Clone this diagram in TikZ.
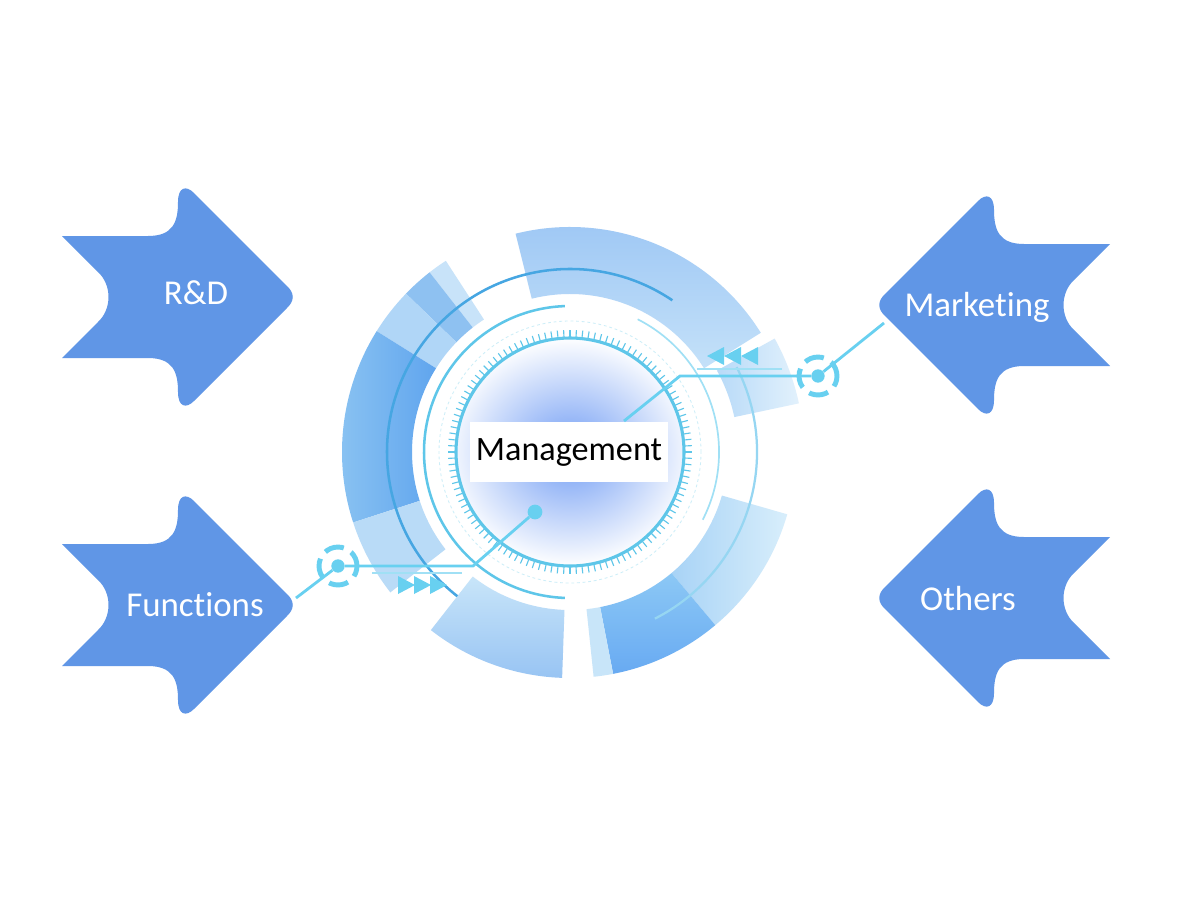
\documentclass[tikz,border=0pt]{standalone}
\usepackage{fontspec}
\setmainfont{Carlito}[Ligatures=NoCommon]
\definecolor{arrowBlue}{RGB}{96,150,230}
\definecolor{lineCyan}{RGB}{104,208,240}
\definecolor{thinCyan}{RGB}{160,224,245}
\definecolor{tickCyan}{RGB}{94,198,233}
\definecolor{darkArc}{RGB}{70,166,226}
\definecolor{lightArc}{RGB}{150,214,242}
\definecolor{faintCyan}{RGB}{205,238,248}
\definecolor{glowBlue}{RGB}{112,156,244}
\definecolor{segPale}{RGB}{200,227,249}
\definecolor{segMid}{RGB}{142,193,241}
\definecolor{segSoft}{RGB}{176,214,247}
\definecolor{segDeep}{RGB}{96,165,238}
\definecolor{segOuter}{RGB}{140,196,242}
\definecolor{segLight}{RGB}{185,219,247}
\definecolor{segTopA}{RGB}{196,225,249}
\definecolor{segTopB}{RGB}{156,198,244}
\definecolor{segRightA}{RGB}{184,218,248}
\definecolor{segRightB}{RGB}{226,241,252}
\definecolor{segLowA}{RGB}{168,211,246}
\definecolor{segLowB}{RGB}{216,238,251}
\definecolor{segDarkA}{RGB}{104,170,242}
\definecolor{segDarkB}{RGB}{140,200,245}
\definecolor{segBotA}{RGB}{152,196,243}
\definecolor{segBotB}{RGB}{200,229,249}
\begin{document}
\begin{tikzpicture}[x=0.025cm, y=-0.025cm]
	\tikzstyle{arrowStyle}=[fill=arrowBlue]
	\tikzstyle{labelStyle}=[text=white, inner sep=0pt, font=\fontsize{24.8}{29}\selectfont]
	\tikzstyle{bandStyle}=[fill=white, inner sep=0pt, minimum width=4.95cm, minimum height=1.52cm, font=\fontsize{24.3}{29}\selectfont]
	\tikzstyle{lineStyle}=[draw=lineCyan, line width=2pt]
	\tikzstyle{thinLineStyle}=[draw=thinCyan, line width=1pt]
	\tikzstyle{dotStyle}=[shape=circle, fill=lineCyan, inner sep=0pt, minimum size=9.5pt]
	\tikzstyle{ringDotStyle}=[shape=circle, draw=lineCyan, line width=3.5pt, inner sep=0pt, minimum size=27pt, dash pattern=on 14pt off 6pt, dash phase=3pt]
	\tikzstyle{ringStyle}=[draw=tickCyan, line width=2.2pt]
	\tikzstyle{tickStyle}=[draw=tickCyan, line width=0.8pt]
	\tikzstyle{faintStyle}=[draw=faintCyan, line width=0.6pt, dash pattern=on 2pt off 2pt]
	\tikzstyle{arcStyle}=[draw=tickCyan, line width=1.8pt]
	\tikzstyle{thinArcStyle}=[draw=thinCyan, line width=1.2pt]
	\tikzstyle{darkArcStyle}=[draw=darkArc, line width=1.8pt]
	\tikzstyle{lightArcStyle}=[draw=lightArc, line width=1.6pt]
	\tikzstyle{segTop}=[top color=segTopB, bottom color=segTopA]
	\tikzstyle{segRight}=[left color=segRightA, right color=segRightB]
	\tikzstyle{segLow}=[left color=segLowA, right color=segLowB]
	\tikzstyle{segDark}=[top color=segDarkB, bottom color=segDarkA]
	\tikzstyle{segSlice}=[fill=segBotB]
	\tikzstyle{segBot}=[top color=segBotB, bottom color=segBotA]
	\tikzstyle{segLeft}=[left color=segOuter, right color=segDeep]
	\tikzstyle{segLeftA}=[fill=segPale]
	\tikzstyle{segLeftB}=[fill=segMid]
	\tikzstyle{segLeftC}=[fill=segSoft]
	\tikzstyle{segLeftD}=[fill=segLight]
	\useasboundingbox (0,0) rectangle (1200,908);
	\fill[white] (0,0) rectangle (1200,908);
	\begin{scope}[shift={(570,452)}, yscale=-1]
		\foreach \ra/\rb/\aa/\ab/\st in {158/225/32/104/segTop, 168/234/12/29/segRight, 158/226/-50/-16/segLow, 158/226/-79/-50/segDark, 158/226/-84/-79/segSlice, 158/226/232/268/segBot, 158/228/123/128/segLeftA, 158/228/128/136/segLeftB, 158/228/136/148/segLeftC, 158/228/148/198/segLeft, 158/228/198/218/segLeftD}
			\path[\st] (\aa:\rb) arc[start angle=\aa, end angle=\ab, radius=\rb] -- (\ab:\ra) arc[start angle=\ab, end angle=\aa, radius=\ra] -- cycle;
		\begin{scope}
			\clip (0,0) circle (113);
			\shade[inner color=glowBlue, outer color=white] (0,0) ellipse (128 and 115);
		\end{scope}
		\draw[ringStyle] (0,0) circle (114);
		\foreach \a in {0,3,...,357}
			\draw[tickStyle] (\a:115) -- (\a:122);
		\draw[faintStyle] (0,0) circle (131);
		\draw[arcStyle] (92:146) arc[start angle=92, end angle=268, radius=146];
		\draw[thinArcStyle] (63:149) arc[start angle=63, end angle=-27, radius=149];
		\draw[darkArcStyle] (56:183) arc[start angle=56, end angle=232, radius=183];
		\draw[lightArcStyle] (27:187) arc[start angle=27, end angle=-63, radius=187];
	\end{scope}
	\node[bandStyle] (mg) at (569,452) {Management};
	\node[dotStyle] (d0) at (818,376) {};
	\node[ringDotStyle] (r0) at (818,376) {};
	\node[dotStyle] (d1) at (338,566) {};
	\node[ringDotStyle] (r1) at (338,566) {};
	\node[dotStyle, minimum size=10.5pt] (d2) at (535,512) {};
	\coordinate (mkEdge) at (884,323);
	\coordinate (fnEdge) at (296,598);
	\coordinate (bendR) at (680,376);
	\coordinate (bendL) at (473,566);
	\coordinate (bandTop) at (624,421);
	\draw[lineStyle] (mkEdge) -- (d0);
	\draw[lineStyle] (d0) -- (bendR) -- (bandTop);
	\draw[lineStyle] (fnEdge) -- (d1);
	\draw[lineStyle] (d1) -- (bendL) -- (d2);
	\draw[thinLineStyle] (697,369) -- (782,369);
	\draw[thinLineStyle] (372,573) -- (462,573);
	\foreach \i in {0,1,2}
		\fill[lineCyan] ({707+17*\i},356) -- ++(17,-9) -- ++(0,18) -- cycle;
	\foreach \i in {0,1,2}
		\fill[lineCyan] ({415+16*\i},585) -- ++(-17,-9) -- ++(0,18) -- cycle;
	\foreach \cx/\cy/\s in {178/297/1, 178/605/1, 994/305/-1, 994/598/-1}
		\fill[arrowStyle, shift={(\cx,\cy)}, xscale=\s] (-116,-61) -- (-80,-25) .. controls (-66,-12) and (-66,12) .. (-80,25) -- (-116,61) -- (-30,61) .. controls (-5,61) and (0,75) .. (0,95) .. controls (0,110) and (8,112) .. (16,104) -- (108,12) .. controls (117,4) and (117,-4) .. (108,-12) -- (16,-104) .. controls (8,-112) and (0,-110) .. (0,-95) .. controls (0,-75) and (-5,-61) .. (-30,-61) -- cycle;
	\node[labelStyle] (rd) at (196,293) {R\&D};
	\node[labelStyle] (fn) at (195,605) {Functions};
	\node[labelStyle] (mk) at (977,307) {Marketing};
	\node[labelStyle] (ot) at (968,599) {Others};
\end{tikzpicture}
\end{document}
